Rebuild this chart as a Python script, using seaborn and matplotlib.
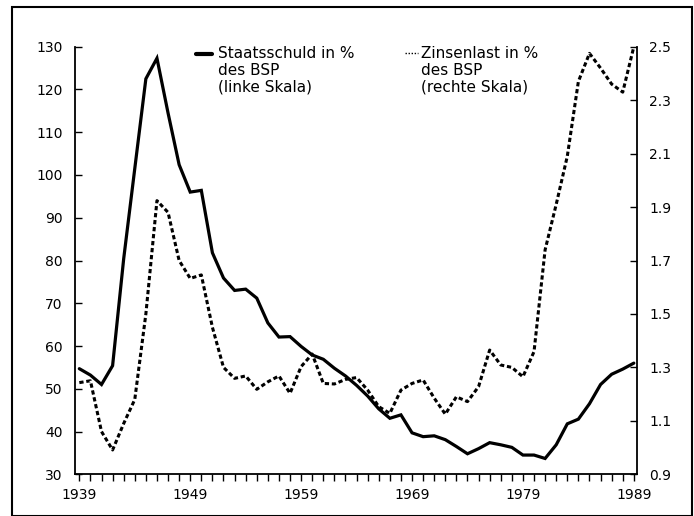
import pandas as pd
import seaborn as sns
import matplotlib.pyplot as plt
from matplotlib.lines import Line2D
from matplotlib.patches import Rectangle
from matplotlib.ticker import FixedLocator

# data
years = [1939, 1940, 1941, 1942, 1943, 1944, 1945, 1946, 1947, 1948,
         1949, 1950, 1951, 1952, 1953, 1954, 1955, 1956, 1957, 1958,
         1959, 1960, 1961, 1962, 1963, 1964, 1965, 1966, 1967, 1968,
         1969, 1970, 1971, 1972, 1973, 1974, 1975, 1976, 1977, 1978,
         1979, 1980, 1981, 1982, 1983, 1984, 1985, 1986, 1987, 1988,
         1989]

# Staatsschuld in % des BSP (left scale)
staatsschuld = [54.7, 53.2, 51.0, 55.4, 80.4, 101.5, 122.5, 127.3, 114.5, 102.4,
                96.0, 96.4, 81.8, 75.9, 73.0, 73.3, 71.2, 65.4, 62.1, 62.2,
                59.9, 57.9, 56.9, 54.8, 53.0, 50.8, 48.3, 45.3, 43.1, 43.9,
                39.7, 38.8, 39.0, 38.1, 36.5, 34.8, 36.0, 37.4, 36.9, 36.3,
                34.5, 34.5, 33.7, 36.9, 41.8, 42.9, 46.5, 51.0, 53.4, 54.6,
                56.0]

# Zinsenlast in % des BSP (right scale)
zinsenlast = [1.243, 1.250, 1.06, 0.991, 1.09, 1.18, 1.50, 1.924, 1.88, 1.70,
              1.633, 1.646, 1.45, 1.30, 1.259, 1.268, 1.218, 1.246, 1.268, 1.203,
              1.303, 1.350, 1.240, 1.238, 1.255, 1.262, 1.215, 1.153, 1.128, 1.215,
              1.240, 1.253, 1.185, 1.125, 1.19, 1.172, 1.228, 1.365, 1.309, 1.300,
              1.265, 1.359, 1.74, 1.91, 2.09, 2.37, 2.475, 2.42, 2.36, 2.33,
              2.50]

left_ticks = [30, 40, 50, 60, 70, 80, 90, 100, 110, 120, 130]
right_ticks = [0.9, 1.1, 1.3, 1.5, 1.7, 1.9, 2.1, 2.3, 2.5]
year_labels = [1939, 1949, 1959, 1969, 1979, 1989]

label_schuld = "Staatsschuld in %\ndes BSP\n(linke Skala)"
label_zins = "Zinsenlast in %\ndes BSP\n(rechte Skala)"

df = pd.DataFrame({"jahr": years, "schuld": staatsschuld, "zins": zinsenlast})

sns.set_style("ticks")
plt.rcParams["font.family"] = ["DejaVu Sans"]
plt.rcParams["font.size"] = 10
plt.rcParams["text.color"] = "black"

W, H = 694, 516
fig = plt.figure(figsize=(W / 100, H / 100), dpi=100)


def fx(x):
    return x / W


def fy(y):
    return 1 - y / H


ax = fig.add_axes([fx(75), fy(474.3), fx(636.5) - fx(75), fy(46.7) - fy(474.3)])
ax2 = ax.twinx()

sns.lineplot(data=df, x="jahr", y="schuld", ax=ax, color="black",
             linewidth=2.3, solid_joinstyle="miter")
sns.lineplot(data=df, x="jahr", y="zins", ax=ax2, color="black",
             linewidth=2.2, linestyle=(0, (1.4, 0.9)))

ax.set_xlim(1938.61, 1989.24)
ax.set_ylim(30, 130)
ax2.set_ylim(0.9, 2.5)

ax.set_xlabel("")
ax.set_ylabel("")
ax2.set_ylabel("")

ax.set_yticks(left_ticks)
ax.set_yticklabels([str(t) for t in left_ticks])
ax2.set_yticks(right_ticks)
ax2.set_yticklabels([f"{t:.1f}" for t in right_ticks])
ax.set_xticks(year_labels)
ax.set_xticklabels([str(t) for t in year_labels])
ax.xaxis.set_minor_locator(FixedLocator(years))

ax.tick_params(axis="y", direction="in", length=5, width=1, pad=9,
               labelsize=10, colors="black")
ax2.tick_params(axis="y", direction="in", length=5, width=1, pad=9,
                labelsize=10, colors="black")
ax.tick_params(axis="x", which="both", direction="out", length=5, width=1,
               pad=5, labelsize=10, colors="black")

for a in (ax, ax2):
    a.spines["top"].set_visible(False)
    for s in ("left", "right", "bottom"):
        a.spines[s].set_linewidth(1.3)
        a.spines[s].set_color("black")
ax.spines["right"].set_visible(False)
ax2.spines["left"].set_visible(False)
ax2.spines["bottom"].set_visible(False)

# legend, drawn as in the original
fig.add_artist(Line2D([fx(196), fx(212)], [fy(54), fy(54)],
                      color="black", linewidth=3, transform=fig.transFigure))
fig.text(fx(218), fy(46), label_schuld, ha="left", va="top",
         fontsize=11, linespacing=1.15, color="black")
fig.add_artist(Line2D([fx(405), fx(418)], [fy(52.5), fy(52.5)],
                      color="black", linewidth=1, linestyle=(0, (1, 1.2)),
                      transform=fig.transFigure))
fig.text(fx(421), fy(46), label_zins, ha="left", va="top",
         fontsize=11, linespacing=1.15, color="black")

# outer frame
fig.add_artist(Rectangle((fx(12), fy(516)), fx(692) - fx(12), fy(7) - fy(516),
                         fill=False, edgecolor="black", linewidth=1.5,
                         transform=fig.transFigure))

fig.savefig("out.png", dpi=100)
